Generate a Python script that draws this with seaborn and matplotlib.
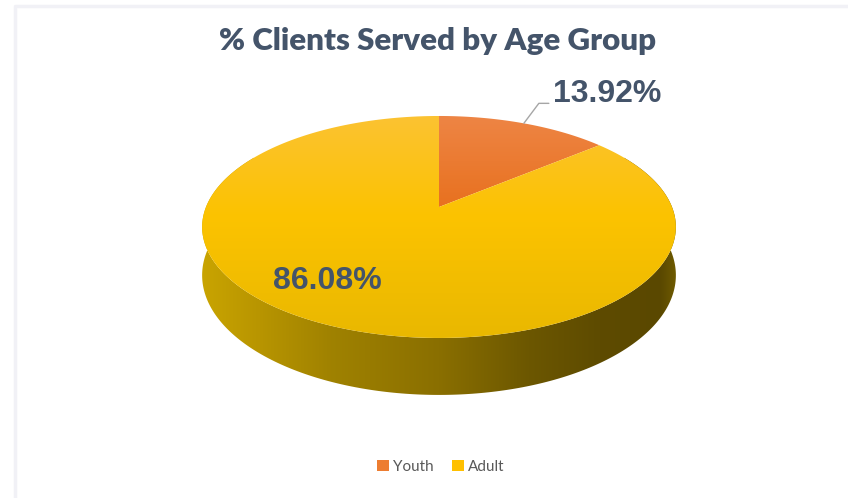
import numpy as np
import matplotlib
matplotlib.use("Agg")
import matplotlib.pyplot as plt
import seaborn as sns
from matplotlib.colors import LinearSegmentedColormap
from matplotlib.patches import Polygon, Patch

# data
groups = ["Youth", "Adult"]
shares = [13.92, 86.08]
colors = ["#ed7d31", "#ffc000"]
title = "% Clients Served by Age Group"

sns.set_theme(style="white")
plt.rcParams["font.family"] = ["Lato", "DejaVu Sans"]

# simple perspective for the 3D pie (pixel space)
CX, CY = 439, 207      # apex of the pie on screen
R, B, A = 233, 107.4, 0.18
DEPTH = 46.7


def project(theta, r=1.0, z=0.0):
    u = r * np.cos(theta)
    v = r * np.sin(theta)
    w = 1 + A * v
    return CX + R * u / w, CY - B * v / w + DEPTH * z / w


def gradient_fill(ax, poly_xy, stops, horizontal=False):
    poly = Polygon(poly_xy, closed=True, facecolor="none", edgecolor="none",
                   transform=ax.transData)
    ax.add_patch(poly)
    xs, ys = poly_xy[:, 0], poly_xy[:, 1]
    cmap = LinearSegmentedColormap.from_list("g", stops)
    grad = np.linspace(0, 1, 256)
    img = grad[None, :] if horizontal else grad[:, None]
    im = ax.imshow(img, cmap=cmap, aspect="auto", interpolation="bilinear",
                   extent=[xs.min(), xs.max(), ys.max(), ys.min()],
                   origin="upper")
    im.set_clip_path(poly)


fig = plt.figure(figsize=(8.48, 4.98), dpi=100)
ax = fig.add_axes([0, 0, 1, 1])

# side of the pie
t = np.radians(np.linspace(150, 390, 300))
top = np.array([project(a) for a in t])
bot = np.array([project(a, z=1.0) for a in t[::-1]])
side = np.vstack([top, bot])
side_stops = [(0.0, "#c9a400"), (0.12, "#b89500"), (0.27, "#a08200"),
              (0.5, "#8a6f00"), (0.69, "#6c5700"), (0.84, "#5e4b00"),
              (0.97, "#5a4800"), (1.0, "#6e5a00")]
gradient_fill(ax, side, side_stops, horizontal=True)

# top face wedges
frac = np.array(shares) / sum(shares)
start = 90.0
top_stops = {
    "Youth": [(0, "#ee8545"), (1, "#e8711f")],
    "Adult": [(0, "#fbc232"), (0.45, "#fcc300"), (1, "#e9b800")],
}
mids = []
for g, f in zip(groups, frac):
    end = start - 360 * f
    arc = np.radians(np.linspace(start, end, 200))
    pts = np.array([(CX, CY)] + [project(a) for a in arc])
    gradient_fill(ax, pts, top_stops[g])
    mids.append(np.radians((start + end) / 2))
    start = end

# labels
lx, ly = project(mids[0])
ex, ey = lx + 15, ly - 20
ax.plot([lx, ex, ex + 10], [ly, ey, ey], color="#a6a6a6", lw=1)
ax.text(ex + 14, ey - 9, f"{shares[0]:.2f}%", ha="left", va="center",
        fontsize=23, fontweight="bold", color="#44546a",
        family=["Liberation Sans", "DejaVu Sans"])
ax.text(327, 281, f"{shares[1]:.2f}%", ha="center", va="center",
        fontsize=23, fontweight="bold", color="#44546a",
        family=["Liberation Sans", "DejaVu Sans"])

# faint chart border
ax.plot([14.5, 14.5, 860], [510, 5.5, 5.5], color="#f1f1f6", lw=2.5)

ax.set_xlim(0, 848)
ax.set_ylim(498, 0)
ax.axis("off")

fig.text(438 / 848, 1 - 41 / 498, title, ha="center", va="center",
         fontsize=22.5, fontweight="heavy", color="#44546a")

handles = [Patch(facecolor=c, edgecolor="none") for c in colors]
fig.legend(handles, groups, loc="center", bbox_to_anchor=(441 / 848, 1 - 467 / 498),
           ncol=2, frameon=False, fontsize=11, handlelength=0.75, handleheight=0.75,
           handletextpad=0.3, columnspacing=1.2, labelcolor="#595959")

fig.savefig("out.png", dpi=100)
